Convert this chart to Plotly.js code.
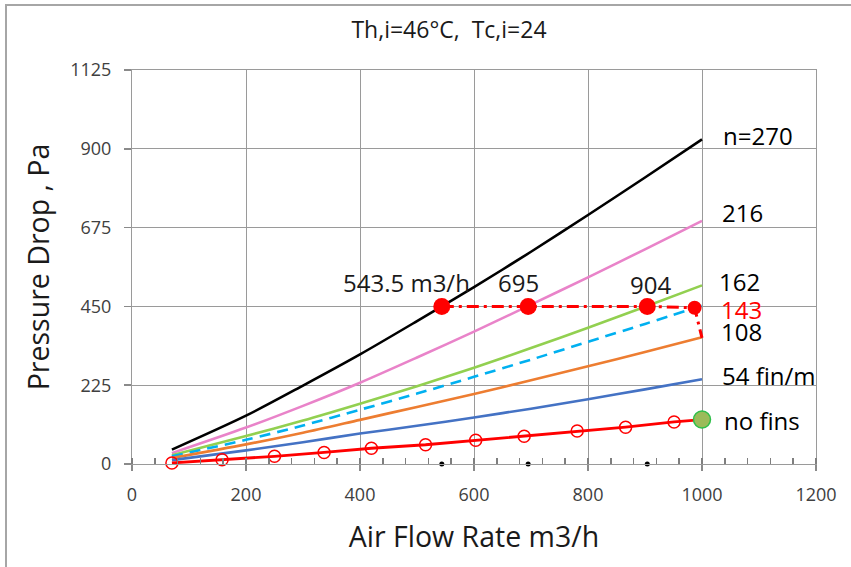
<!DOCTYPE html>
<html>
<head>
<meta charset="utf-8">
<script src="https://cdn.plot.ly/plotly-3.0.1.min.js"></script>
<style>
  html, body { margin: 0; padding: 0; background: #fff; }
  #wrap { position: relative; width: 851px; height: 567px; overflow: hidden; }
  #chart { position: absolute; left: 0; top: 0; width: 851px; height: 567px; }
  #frame { position: absolute; left: 5px; top: 4px; width: 900px; height: 900px;
           border-left: 2px solid #a6a6a6; border-top: 2px solid #a6a6a6; pointer-events: none; }
</style>
</head>
<body>
<div id="wrap"><div id="chart"></div><div id="frame"></div></div>
<script>
// Air flow rate (m3/h) sample points for finned curves
const flowX = [70, 200, 300, 400, 500, 600, 700, 800, 900, 1000];
// Pressure drop (Pa) per fin density
const fin270 = [41, 138, 224, 313, 408, 505, 606, 711, 818, 927];
const fin216 = [31, 104, 166, 232, 304, 378, 455, 533, 613, 694];
const fin162 = [25, 80, 124, 172, 222, 275, 331, 389, 449, 510];
const fin143 = [22, 69, 110, 155, 201, 249, 298, 349, 400, 452];
const fin108 = [17, 56, 89, 126, 163, 200, 239, 279, 320, 362];
const fin54  = [11, 39, 62, 87, 109, 133, 158, 185, 213, 242];
// No fins measured points
const noFinsX = [70, 158, 250, 337, 420, 515, 603, 688, 781, 866, 951, 1000];
const noFinsY = [3, 12, 22, 33, 45, 55, 68, 79, 94, 105, 120, 127];
// Operating line at 450 Pa
const opLineX = [543.5, 695, 904, 987, 1000];
const opLineY = [450, 450, 450, 446, 360];
const opFlow = [543.5, 695, 904];
const opLabels = ['543.5 m3/h', '695', '904'];
// Curve labels
const curveLabels = ['n=270', '216', '162', '143', '108', '54 fin/m', 'no fins'];
const titleText = 'Th,i=46°C,\u00a0 Tc,i=24';
const xTitle = 'Air Flow Rate m3/h';
const yTitle = 'Pressure Drop , Pa';

const F = '"Open Sans", "DejaVu Sans", sans-serif';

function line(y, color, dash) {
  return { x: flowX, y: y, mode: 'lines', type: 'scatter',
    line: { color: color, width: 2.6, dash: dash || 'solid', shape: 'spline', smoothing: 0.8 }, hoverinfo: 'skip' };
}

const traces = [
  line(fin270, '#000000'),
  line(fin216, '#e983c9'),
  line(fin162, '#92d050'),
  line(fin143, '#00b0f0', '11px,7px'),
  line(fin108, '#ed7d31'),
  line(fin54, '#4472c4'),
  { x: noFinsX, y: noFinsY, mode: 'lines', type: 'scatter',
    line: { color: '#ff0000', width: 2.8 }, cliponaxis: false },
  { x: noFinsX.slice(0, -1), y: noFinsY.slice(0, -1), mode: 'markers', type: 'scatter',
    marker: { symbol: 'circle-open', size: 12, color: '#ff0000', opacity: 1, line: { width: 1.5, color: '#ff0000' } },
    cliponaxis: false },
  { x: noFinsX.slice(-1), y: noFinsY.slice(-1), mode: 'markers', type: 'scatter',
    marker: { symbol: 'circle', size: 17, color: '#9bbb59', opacity: 1, line: { width: 1.5, color: '#2fbf4a' } },
    cliponaxis: false },
  { x: opLineX, y: opLineY, mode: 'lines', type: 'scatter',
    line: { color: '#ff0000', width: 3, dash: '12px,5px,3px,5px' }, cliponaxis: false },
  { x: opLineX.slice(0, 4), y: opLineY.slice(0, 4), mode: 'markers', type: 'scatter',
    marker: { color: '#ff0000', opacity: 1, size: [17, 17, 17, 14], line: { width: 0 } }, cliponaxis: false },
  { x: opFlow, y: opFlow.map(() => 0), mode: 'markers', type: 'scatter',
    marker: { color: '#000000', opacity: 1, size: 5 }, cliponaxis: false }
];

// label anchors (data coordinates)
const labelPos = [[1033, 938], [1031, 718], [1027, 521], [1029, 442], [1029, 377], [1031, 253], [1035, 124]];
const labelColor = ['#000', '#000', '#000', '#ff0000', '#000', '#000', '#000'];
const opLabelPos = [[481, 518], [678, 518], [909, 513]];

const annotations = [];
curveLabels.forEach((t, i) => annotations.push({
  x: labelPos[i][0], y: labelPos[i][1], xref: 'x', yref: 'y', text: t, showarrow: false,
  xanchor: 'left', yanchor: 'middle', font: { family: F, size: 24, color: labelColor[i] }
}));
opLabels.forEach((t, i) => annotations.push({
  x: opLabelPos[i][0], y: opLabelPos[i][1], xref: 'x', yref: 'y', text: t, showarrow: false,
  xanchor: 'center', yanchor: 'middle', font: { family: F, size: 24, color: '#1a1a1a' }
}));

const layout = {
  width: 851, height: 567,
  margin: { l: 132, r: 35, t: 70, b: 103, pad: 0 },
  paper_bgcolor: '#ffffff', plot_bgcolor: '#ffffff',
  showlegend: false,
  font: { family: F, color: '#404040' },
  title: { text: titleText, font: { family: F, size: 23, color: '#1a1a1a' },
           x: 0.5276, xref: 'container', xanchor: 'center', y: 0.948, yref: 'container', yanchor: 'middle' },
  xaxis: {
    range: [0, 1200], dtick: 200, tick0: 0,
    showgrid: true, gridcolor: '#9a9a9a', gridwidth: 1,
    zeroline: false, showline: true, linecolor: '#9a9a9a', linewidth: 1, mirror: true,
    ticks: 'outside', ticklen: 6, tickcolor: '#8a8a8a', tickwidth: 1.5,
    ticklabelstandoff: 8,
    minor: { dtick: 40, tick0: 0, ticks: 'inside', ticklen: 6, tickcolor: '#7f7f7f', tickwidth: 1.5, showgrid: false },
    tickfont: { family: F, size: 18, color: '#404040' },
    title: { text: xTitle, font: { family: F, size: 28.5, color: '#1a1a1a' }, standoff: 22 },
    fixedrange: true
  },
  yaxis: {
    range: [0, 1125], dtick: 225, tick0: 0,
    showgrid: true, gridcolor: '#9a9a9a', gridwidth: 1,
    zeroline: false, showline: true, linecolor: '#9a9a9a', linewidth: 1, mirror: true,
    ticks: 'outside', ticklen: 7, tickcolor: '#8a8a8a', tickwidth: 1.5,
    ticklabelstandoff: 9,
    tickfont: { family: F, size: 18, color: '#404040' },
    title: { text: yTitle, font: { family: F, size: 28.5, color: '#1a1a1a' }, standoff: 12 },
    fixedrange: true
  },
  annotations: annotations
};

Plotly.newPlot('chart', traces, layout, { staticPlot: true, displayModeBar: false });
</script>
</body>
</html>
